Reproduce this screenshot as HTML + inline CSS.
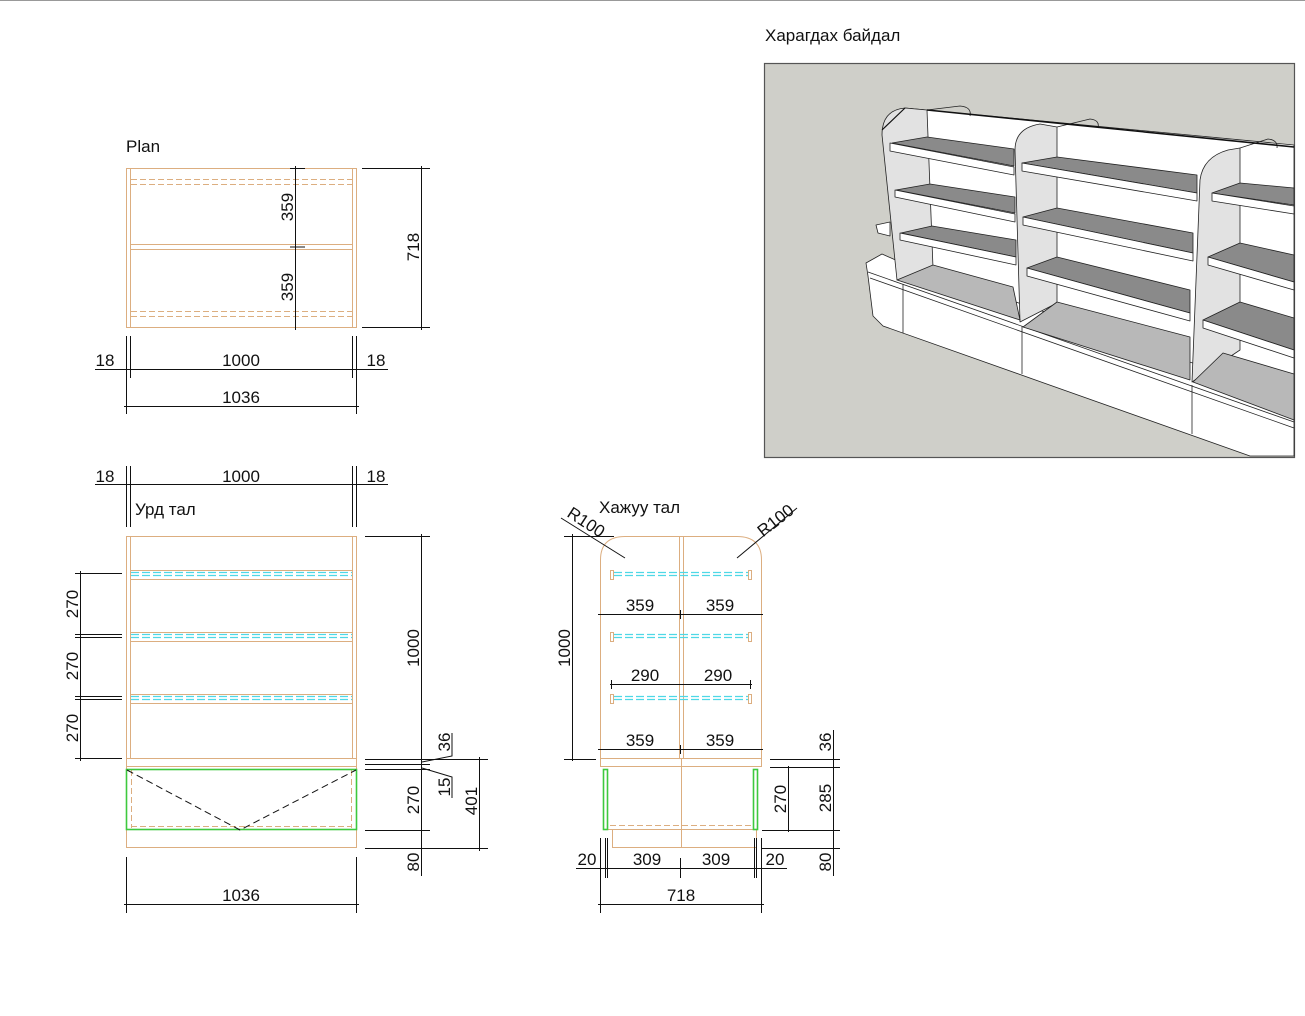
<!DOCTYPE html>
<html><head><meta charset="utf-8"><style>
html,body{margin:0;padding:0;background:#fff;}
svg{display:block;}
text{font-family:"Liberation Sans","DejaVu Sans",sans-serif;fill:#111;}
</style></head><body>
<svg width="1305" height="1016" viewBox="0 0 1305 1016" xmlns="http://www.w3.org/2000/svg">
<line x1="0" y1="0.5" x2="1305" y2="0.5" stroke="#999" stroke-width="1"/>

<!-- ============ 3D view ============ -->
<text x="765" y="41" font-size="17">Харагдах байдал</text>
<rect x="764.5" y="63.5" width="530" height="394" fill="#cfcfc9" stroke="#555" stroke-width="1.2"/>
<g stroke="#222" stroke-width="0.8" stroke-linejoin="round">
 <!-- back wall -->
 <polygon points="905,108 1294,145 1294,420 927,290 900,270" fill="#fff"/>
 <!-- base -->
 <polygon points="866,263 882,254 900,262 1294,398 1294,456 1250,456 883,326 873,316 868,276" fill="#fff"/>
 <line x1="868" y1="272" x2="1294" y2="422"/>
 <line x1="870" y1="278" x2="1294" y2="428"/>
 <line x1="903" y1="284" x2="903" y2="333"/>
 <line x1="1022" y1="326" x2="1022" y2="374"/>
 <line x1="1192" y1="385" x2="1192" y2="434"/>
 <!-- small left shelf stub -->
 <polygon points="876,225 890,222 890,236 878,233" fill="#fff"/>
 <!-- top rounded outlines behind -->
 <path d="M927,110 L960,106 Q972,107 970,116" fill="none"/>
 <path d="M1057,127 L1090,119 Q1100,120 1098,128" fill="none"/>
 <path d="M1240,148 L1268,139 Q1278,140 1277,148" fill="none"/>
 <!-- side panels -->
 <path d="M882,135 Q882,110 905,108 L927,110 L933,268 L897,280 Z" fill="#e2e2e2"/>
 <path d="M1015,150 Q1015,128 1040,124 L1057,127 L1057,303 L1020,322 Z" fill="#e2e2e2"/>
 <path d="M1200,180 Q1203,157 1228,150 L1240,148 L1240,350 L1192,382 Z" fill="#e2e2e2"/>
 <!-- floors -->
 <polygon points="897,280 933,265 1013,287 1020,320" fill="#b8b8b8"/>
 <polygon points="1023,327 1057,302 1190,337 1190,380" fill="#b8b8b8"/>
 <polygon points="1193,382 1223,353 1294,374 1294,420" fill="#b8b8b8"/>
 <!-- section 1 shelves -->
 <polygon points="927,137 1014,149 1014,166 892,143" fill="#8a8a8a"/>
 <polygon points="890,143 1014,167 1014,175 890,151" fill="#fff"/>
 <polygon points="930,184 1015,197 1015,213 896,190" fill="#8a8a8a"/>
 <polygon points="895,190 1015,214 1015,222 895,197" fill="#fff"/>
 <polygon points="932,226 1016,240 1016,257 901,233" fill="#8a8a8a"/>
 <polygon points="900,233 1016,257 1016,265 900,240" fill="#fff"/>
 <!-- section 2 shelves -->
 <polygon points="1057,157 1197,175 1197,193 1022,163" fill="#8a8a8a"/>
 <polygon points="1022,163 1197,193 1197,201 1022,171" fill="#fff"/>
 <polygon points="1057,208 1193,233 1193,253 1023,217" fill="#8a8a8a"/>
 <polygon points="1023,217 1193,253 1193,261 1023,225" fill="#fff"/>
 <polygon points="1057,257 1190,290 1190,313 1027,268" fill="#8a8a8a"/>
 <polygon points="1027,268 1190,313 1190,321 1027,276" fill="#fff"/>
 <!-- section 3 shelves -->
 <polygon points="1240,183 1294,188 1294,205 1212,193" fill="#8a8a8a"/>
 <polygon points="1212,193 1294,206 1294,214 1212,201" fill="#fff"/>
 <polygon points="1240,243 1294,255 1294,282 1208,257" fill="#8a8a8a"/>
 <polygon points="1208,257 1294,282 1294,290 1208,265" fill="#fff"/>
 <polygon points="1240,302 1294,318 1294,350 1203,320" fill="#8a8a8a"/>
 <polygon points="1203,320 1294,350 1294,358 1203,328" fill="#fff"/>
</g>
<line x1="927" y1="110" x2="1294" y2="147" stroke="#111" stroke-width="1.6"/>
<line x1="882" y1="130" x2="905" y2="108" stroke="#111" stroke-width="1.2"/>

<!-- ============ PLAN ============ -->
<text x="126" y="152" font-size="17">Plan</text>
<g fill="none" stroke="#dcae80" stroke-width="1">
 <rect x="126.5" y="168.5" width="230" height="159"/>
 <line x1="130.5" y1="168" x2="130.5" y2="328"/>
 <line x1="352.5" y1="168" x2="352.5" y2="328"/>
 <line x1="131" y1="244.5" x2="352" y2="244.5"/>
 <line x1="131" y1="249.5" x2="352" y2="249.5"/>
 <g stroke-dasharray="6,3">
  <line x1="131" y1="179.5" x2="352" y2="179.5"/>
  <line x1="131" y1="184.5" x2="352" y2="184.5"/>
  <line x1="131" y1="311.5" x2="352" y2="311.5"/>
  <line x1="131" y1="316.5" x2="352" y2="316.5"/>
 </g>
</g>
<g stroke="#111" stroke-width="1" fill="none">
 <line x1="295.5" y1="166" x2="295.5" y2="330"/>
 <line x1="290" y1="168.5" x2="305" y2="168.5"/>
 <line x1="290" y1="247" x2="305" y2="247"/>
 <line x1="362" y1="168.5" x2="430" y2="168.5"/>
 <line x1="362" y1="327.5" x2="430" y2="327.5"/>
 <line x1="421.5" y1="166" x2="421.5" y2="330"/>
 <line x1="126.5" y1="336" x2="126.5" y2="414"/>
 <line x1="130.5" y1="336" x2="130.5" y2="378"/>
 <line x1="352.5" y1="336" x2="352.5" y2="378"/>
 <line x1="356.5" y1="336" x2="356.5" y2="414"/>
 <line x1="95" y1="369.5" x2="388" y2="369.5"/>
 <line x1="124" y1="406.5" x2="359" y2="406.5"/>
</g>
<g font-size="17" text-anchor="middle">
 <text transform="translate(293,207) rotate(-90)">359</text>
 <text transform="translate(293,287) rotate(-90)">359</text>
 <text transform="translate(419,247) rotate(-90)">718</text>
 <text x="105" y="366">18</text>
 <text x="241" y="366">1000</text>
 <text x="376" y="366">18</text>
 <text x="241" y="403">1036</text>
</g>

<!-- ============ FRONT ============ -->
<g stroke="#111" stroke-width="1" fill="none">
 <line x1="95" y1="484.5" x2="388" y2="484.5"/>
 <line x1="126.5" y1="466" x2="126.5" y2="527"/>
 <line x1="130.5" y1="466" x2="130.5" y2="527"/>
 <line x1="352.5" y1="466" x2="352.5" y2="527"/>
 <line x1="356.5" y1="466" x2="356.5" y2="527"/>
</g>
<g font-size="17" text-anchor="middle">
 <text x="105" y="482">18</text>
 <text x="241" y="482">1000</text>
 <text x="376" y="482">18</text>
</g>
<text x="135" y="515" font-size="17">Урд тал</text>
<g fill="none" stroke="#dcae80" stroke-width="1">
 <rect x="126.5" y="536.5" width="230" height="311"/>
 <line x1="130.5" y1="536" x2="130.5" y2="759"/>
 <line x1="352.5" y1="536" x2="352.5" y2="759"/>
 <line x1="130" y1="579.5" x2="352" y2="579.5"/>
 <line x1="130" y1="570.5" x2="352" y2="570.5"/>
 <line x1="130" y1="632.5" x2="352" y2="632.5"/>
 <line x1="130" y1="641.5" x2="352" y2="641.5"/>
 <line x1="130" y1="694.5" x2="352" y2="694.5"/>
 <line x1="130" y1="703.5" x2="352" y2="703.5"/>
 <line x1="126" y1="758.5" x2="356" y2="758.5"/>
 <line x1="126" y1="766.5" x2="356" y2="766.5"/>
 <g stroke-dasharray="6,3">
  <line x1="131.5" y1="770" x2="131.5" y2="828"/>
  <line x1="351.5" y1="770" x2="351.5" y2="828"/>
  <line x1="131" y1="826.5" x2="352" y2="826.5"/>
 </g>
</g>
<g stroke="#4ed8e6" stroke-width="1.2" stroke-dasharray="8,3" fill="none">
 <line x1="131" y1="572.5" x2="352" y2="572.5"/><line x1="131" y1="575.5" x2="352" y2="575.5"/>
 <line x1="131" y1="634.5" x2="352" y2="634.5"/><line x1="131" y1="637.5" x2="352" y2="637.5"/>
 <line x1="131" y1="696.5" x2="352" y2="696.5"/><line x1="131" y1="699.5" x2="352" y2="699.5"/>
</g>
<rect x="126.5" y="769.5" width="230" height="60" fill="none" stroke="#3ec93e" stroke-width="1.6"/>
<polyline points="127,770 240,830 356,770" fill="none" stroke="#111" stroke-width="1" stroke-dasharray="7,4"/>
<g stroke="#111" stroke-width="1" fill="none">
 <line x1="80.5" y1="571" x2="80.5" y2="761"/>
 <line x1="75" y1="573.5" x2="122" y2="573.5"/>
 <line x1="75" y1="634.5" x2="122" y2="634.5"/>
 <line x1="75" y1="637.5" x2="122" y2="637.5"/>
 <line x1="75" y1="696.5" x2="122" y2="696.5"/>
 <line x1="75" y1="699.5" x2="122" y2="699.5"/>
 <line x1="75" y1="758.5" x2="122" y2="758.5"/>
 <line x1="365" y1="536.5" x2="430" y2="536.5"/>
 <line x1="365" y1="759.5" x2="488" y2="759.5"/>
 <line x1="365" y1="764.5" x2="430" y2="764.5"/>
 <line x1="365" y1="769.5" x2="430" y2="769.5"/>
 <line x1="365" y1="830.5" x2="430" y2="830.5"/>
 <line x1="365" y1="848.5" x2="488" y2="848.5"/>
 <line x1="421.5" y1="534" x2="421.5" y2="876"/>
 <line x1="479.5" y1="757" x2="479.5" y2="851"/>
 <polyline points="422,762 452,756 452,733"/>
 <polyline points="422,768 452,777 452,798"/>
</g>
<g font-size="17" text-anchor="middle">
 <text transform="translate(78,604) rotate(-90)">270</text>
 <text transform="translate(78,666) rotate(-90)">270</text>
 <text transform="translate(78,728) rotate(-90)">270</text>
 <text transform="translate(419,648) rotate(-90)">1000</text>
 <text transform="translate(450,742) rotate(-90)">36</text>
 <text transform="translate(450,787) rotate(-90)">15</text>
 <text transform="translate(419,800) rotate(-90)">270</text>
 <text transform="translate(477,801) rotate(-90)">401</text>
 <text transform="translate(419,862) rotate(-90)">80</text>
</g>
<g stroke="#111" stroke-width="1" fill="none">
 <line x1="126.5" y1="857" x2="126.5" y2="913"/>
 <line x1="356.5" y1="857" x2="356.5" y2="913"/>
 <line x1="124" y1="904.5" x2="359" y2="904.5"/>
</g>
<text x="241" y="901" font-size="17" text-anchor="middle">1036</text>

<!-- ============ SIDE ============ -->
<text x="599" y="513" font-size="17">Хажуу тал</text>
<g fill="none" stroke="#dcae80" stroke-width="1">
 <path d="M600.5,759 L600.5,560 Q600.5,536.5 625,536.5 L737,536.5 Q761.5,536.5 761.5,560 L761.5,759"/>
 <line x1="679.5" y1="536" x2="679.5" y2="759"/>
 <line x1="683.5" y1="536" x2="683.5" y2="759"/>
 <line x1="681.5" y1="759" x2="681.5" y2="848"/>
 <line x1="600" y1="758.5" x2="762" y2="758.5"/>
 <line x1="600" y1="766.5" x2="762" y2="766.5"/>
 <line x1="600.5" y1="759" x2="600.5" y2="767"/>
 <line x1="761.5" y1="759" x2="761.5" y2="767"/>
 <line x1="606" y1="829.5" x2="756" y2="829.5"/>
 <line x1="612.5" y1="830" x2="612.5" y2="848"/>
 <line x1="756.5" y1="830" x2="756.5" y2="848"/>
 <line x1="612" y1="847.5" x2="757" y2="847.5"/>
 <line x1="610" y1="825.5" x2="752" y2="825.5" stroke-dasharray="6,3"/>
 <rect x="610.5" y="570.5" width="3" height="9"/><rect x="748.5" y="570.5" width="3" height="9"/>
 <rect x="610.5" y="632.5" width="3" height="9"/><rect x="748.5" y="632.5" width="3" height="9"/>
 <rect x="610.5" y="694.5" width="3" height="9"/><rect x="748.5" y="694.5" width="3" height="9"/>
</g>
<g stroke="#4ed8e6" stroke-width="1.2" stroke-dasharray="8,3" fill="none">
 <line x1="614" y1="572.5" x2="748" y2="572.5"/><line x1="614" y1="575.5" x2="748" y2="575.5"/>
 <line x1="614" y1="634.5" x2="748" y2="634.5"/><line x1="614" y1="637.5" x2="748" y2="637.5"/>
 <line x1="614" y1="696.5" x2="748" y2="696.5"/><line x1="614" y1="699.5" x2="748" y2="699.5"/>
</g>
<rect x="603.5" y="769.5" width="4" height="60" fill="none" stroke="#3ec93e" stroke-width="1.6"/>
<rect x="753.5" y="769.5" width="4" height="60" fill="none" stroke="#3ec93e" stroke-width="1.6"/>
<g stroke="#111" stroke-width="1" fill="none">
 <line x1="561" y1="518" x2="625" y2="558"/>
 <line x1="797" y1="508" x2="737" y2="558"/>
 <line x1="564" y1="536.5" x2="614" y2="536.5"/>
 <line x1="572.5" y1="534" x2="572.5" y2="761"/>
 <line x1="564" y1="759.5" x2="596" y2="759.5"/>
 <line x1="598" y1="614.5" x2="763" y2="614.5"/>
 <line x1="680.5" y1="610" x2="680.5" y2="619"/>
 <line x1="610" y1="684.5" x2="752" y2="684.5"/>
 <line x1="611.5" y1="680" x2="611.5" y2="689"/>
 <line x1="750.5" y1="680" x2="750.5" y2="689"/>
 <line x1="598" y1="749.5" x2="763" y2="749.5"/>
 <line x1="680.5" y1="745" x2="680.5" y2="754"/>
 <line x1="770" y1="759.5" x2="840" y2="759.5"/>
 <line x1="770" y1="767.5" x2="840" y2="767.5"/>
 <line x1="762" y1="830.5" x2="840" y2="830.5"/>
 <line x1="762" y1="848.5" x2="840" y2="848.5"/>
 <line x1="788.5" y1="766" x2="788.5" y2="832"/>
 <line x1="833.5" y1="730" x2="833.5" y2="876"/>
 <line x1="576" y1="868.5" x2="787" y2="868.5"/>
 <line x1="600.5" y1="838" x2="600.5" y2="913"/>
 <line x1="605.5" y1="838" x2="605.5" y2="878"/>
 <line x1="607.5" y1="838" x2="607.5" y2="878"/>
 <line x1="680.5" y1="858" x2="680.5" y2="878"/>
 <line x1="754.5" y1="838" x2="754.5" y2="878"/>
 <line x1="756.5" y1="838" x2="756.5" y2="878"/>
 <line x1="761.5" y1="838" x2="761.5" y2="913"/>
 <line x1="598" y1="904.5" x2="764" y2="904.5"/>
</g>
<g font-size="17" text-anchor="middle">
 <text transform="translate(583,527) rotate(33)">R100</text>
 <text transform="translate(779,525) rotate(-38)">R100</text>
 <text transform="translate(570,648) rotate(-90)">1000</text>
 <text x="640" y="611">359</text>
 <text x="720" y="611">359</text>
 <text x="645" y="681">290</text>
 <text x="718" y="681">290</text>
 <text x="640" y="746">359</text>
 <text x="720" y="746">359</text>
 <text transform="translate(786,799) rotate(-90)">270</text>
 <text transform="translate(831,742) rotate(-90)">36</text>
 <text transform="translate(831,798) rotate(-90)">285</text>
 <text transform="translate(831,862) rotate(-90)">80</text>
 <text x="587" y="865">20</text>
 <text x="647" y="865">309</text>
 <text x="716" y="865">309</text>
 <text x="775" y="865">20</text>
 <text x="681" y="901">718</text>
</g>
</svg>
</body></html>
